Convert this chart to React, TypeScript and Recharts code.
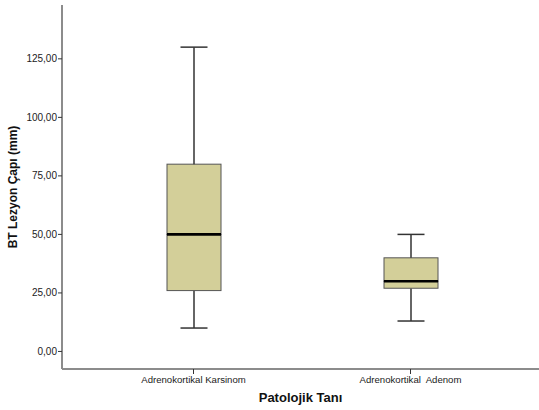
import React from 'react'
import { ComposedChart, Bar, XAxis, YAxis, Label } from 'recharts'

const categories = ['Adrenokortikal Karsinom', 'Adrenokortikal  Adenom']
const minimum = [10, 13]
const q1 = [26, 27]
const median = [50, 30]
const q3 = [80, 40]
const maximum = [130, 50]
const yTicks = [0, 25, 50, 75, 100, 125]

const data = categories.map((name, i) => ({
  name,
  base: minimum[i],
  lowWhisker: q1[i] - minimum[i],
  lowBox: median[i] - q1[i],
  highBox: q3[i] - median[i],
  highWhisker: maximum[i] - q3[i],
}))

const FONT = 'Arial, "Liberation Sans", sans-serif'
const BOX_FILL = '#D3CF99'
const BOX_STROKE = '#555555'
const WHISKER = '#333333'

const LowWhisker = (props: any) => {
  const { x, y, width, height } = props
  const cx = x + width / 2
  const cap = width / 4
  return (
    <g>
      <line x1={cx} x2={cx} y1={y} y2={y + height} stroke={WHISKER} strokeWidth={1.5} />
      <line x1={cx - cap} x2={cx + cap} y1={y + height} y2={y + height} stroke={WHISKER} strokeWidth={1.5} />
    </g>
  )
}

const HighWhisker = (props: any) => {
  const { x, y, width, height } = props
  const cx = x + width / 2
  const cap = width / 4
  return (
    <g>
      <line x1={cx} x2={cx} y1={y} y2={y + height} stroke={WHISKER} strokeWidth={1.5} />
      <line x1={cx - cap} x2={cx + cap} y1={y} y2={y} stroke={WHISKER} strokeWidth={1.5} />
    </g>
  )
}

const LowBox = (props: any) => {
  const { x, y, width, height } = props
  return <rect x={x} y={y} width={width} height={height} fill={BOX_FILL} stroke={BOX_STROKE} strokeWidth={1} />
}

// upper half of the box, median drawn on its bottom edge
const HighBox = (props: any) => {
  const { x, y, width, height } = props
  return (
    <g>
      <rect x={x} y={y} width={width} height={height} fill={BOX_FILL} stroke={BOX_STROKE} strokeWidth={1} />
      <line x1={x} x2={x + width} y1={y + height} y2={y + height} stroke="#000" strokeWidth={2.6} />
    </g>
  )
}

const CategoryTick = (props: any) => {
  const { x, y, payload } = props
  return (
    <text
      x={x}
      y={y}
      dy="0.71em"
      textAnchor="middle"
      fontSize={9.6}
      fontFamily={FONT}
      fill="#222"
      style={{ whiteSpace: 'pre' }}
    >
      {payload.value}
    </text>
  )
}

export default function App() {
  return (
    <div style={{ position: 'absolute', left: 0, top: 0, background: '#fff' }}>
      <ComposedChart
        width={539}
        height={410}
        data={data}
        margin={{ top: 5, right: 0, bottom: 0, left: 0 }}
      >
        <XAxis
          dataKey="name"
          height={41}
          padding={{ left: 23, right: 20 }}
          axisLine={{ stroke: '#8c8c8c', strokeWidth: 2 }}
          tickLine={{ stroke: '#333' }}
          tickSize={5}
          tickMargin={2}
          tick={<CategoryTick />}
          interval={0}
        >
          <Label
            value="Patolojik Tanı"
            position="insideBottom"
            offset={8}
            style={{ fontFamily: FONT, fontSize: 13, fontWeight: 'bold', fill: '#111' }}
          />
        </XAxis>
        <YAxis
          width={62}
          domain={[-7.5, 148]}
          ticks={yTicks}
          type="number"
          allowDataOverflow
          axisLine={{ stroke: '#8c8c8c', strokeWidth: 2 }}
          tickLine={{ stroke: '#333' }}
          tickSize={4}
          tickMargin={1}
          tick={{ fontSize: 10, fontFamily: FONT, fill: '#222' }}
          tickFormatter={(v: number) => v.toFixed(2).replace('.', ',')}
        >
          <Label
            content={(p: any) => {
              const vb = p.viewBox
              const cx = 13
              const cy = vb.y + vb.height / 2
              return (
                <text
                  x={cx}
                  y={cy}
                  transform={`rotate(-90 ${cx} ${cy})`}
                  textAnchor="middle"
                  dominantBaseline="central"
                  fontFamily={FONT}
                  fontSize={12}
                  fontWeight="bold"
                  fill="#111"
                >
                  BT Lezyon Çapı (mm)
                </text>
              )
            }}
          />
        </YAxis>
        <Bar dataKey="base" stackId="box" fill="transparent" barSize={54} isAnimationActive={false} />
        <Bar dataKey="lowWhisker" stackId="box" barSize={54} shape={<LowWhisker />} isAnimationActive={false} />
        <Bar dataKey="lowBox" stackId="box" barSize={54} shape={<LowBox />} isAnimationActive={false} />
        <Bar dataKey="highBox" stackId="box" barSize={54} shape={<HighBox />} isAnimationActive={false} />
        <Bar dataKey="highWhisker" stackId="box" barSize={54} shape={<HighWhisker />} isAnimationActive={false} />
      </ComposedChart>
    </div>
  )
}
